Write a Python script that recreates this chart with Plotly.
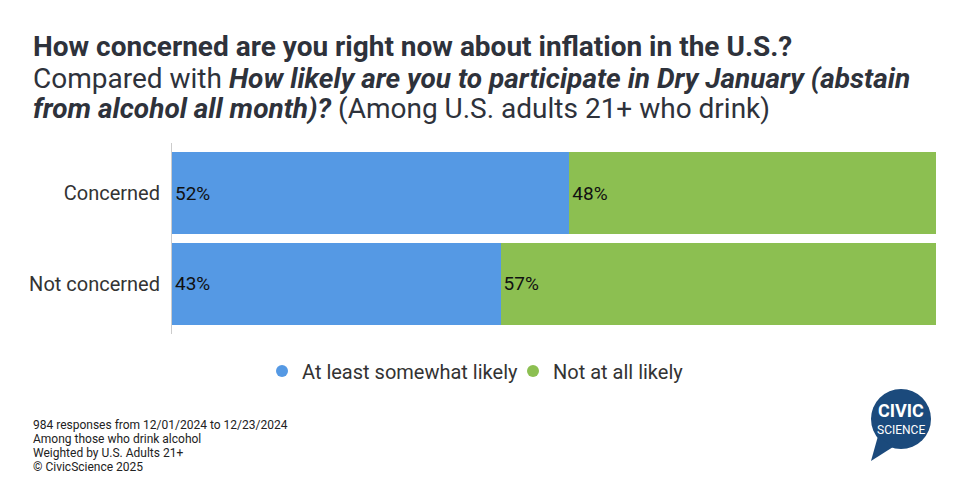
import plotly.graph_objects as go

categories = ["Concerned", "Not concerned"]
series_names = ["At least somewhat likely", "Not at all likely"]
likely = [52, 43]
not_likely = [48, 57]
colors = ["#5599E4", "#8CBF51"]

title_lines = [
    "<b>How concerned are you right now about inflation in the U.S.?</b>",
    "Compared with <b><i>How likely are you to participate in Dry January (abstain</i></b>",
    "<b><i>from alcohol all month)?</i></b> (Among U.S. adults 21+ who drink)",
]
footnote_lines = [
    "984 responses from 12/01/2024 to 12/23/2024",
    "Among those who drink alcohol",
    "Weighted by U.S. Adults 21+",
    "© CivicScience 2025",
]

# page offset (body margin) of 8px
O = 8
W, H = 966 - O, 488 - O
L = 172 - O
T = 143 - O
R = 966 - 936
B = 488 - 334
PW = W - L - R
PH = H - T - B


def X(px):
    return (px - O - L) / PW


def Y(py):
    return 1 - (py - O - T) / PH


fig = go.Figure()
for name, vals, col in zip(series_names, [likely, not_likely], colors):
    fig.add_trace(go.Bar(
        y=categories, x=[v / 100 for v in vals], orientation="h", name=name,
        marker=dict(color=col, line=dict(width=0)),
        text=[f"{v}%" for v in vals], textposition="inside", insidetextanchor="start",
        textfont=dict(family="Roboto", size=19, color="#111111"),
        hoverinfo="skip", showlegend=False,
    ))
# legend entries with circle markers
for name, col in zip(series_names, colors):
    fig.add_trace(go.Scatter(
        x=[None], y=[None], mode="markers", name=name,
        marker=dict(color=col, size=15, symbol="circle"), showlegend=True,
    ))

fig.update_layout(
    width=W, height=H, barmode="stack", bargap=0.1,
    margin=dict(l=L, r=R, t=T, b=B, pad=0),
    paper_bgcolor="white", plot_bgcolor="white",
    font=dict(family="Roboto", color="#333333"),
    showlegend=True,
    legend=dict(orientation="h", x=X(513), xanchor="center", y=Y(371), yanchor="middle",
                font=dict(size=20, color="#333333"), itemsizing="constant",
                traceorder="normal", itemwidth=30, entrywidth=206),
    xaxis=dict(range=[0, 1], visible=False, fixedrange=True),
    yaxis=dict(range=[1.55, -0.55], showline=True, linecolor="#cccccc", linewidth=1,
               ticks="", tickfont=dict(size=20, color="#333333"), ticklabelstandoff=7,
               showgrid=False, zeroline=False),
    uniformtext=dict(mode="show", minsize=8),
)

TS = 28
for line, baseline in zip(title_lines, [57, 89, 119]):
    fig.add_annotation(text=line, xref="paper", yref="paper",
                       x=X(31), y=Y(baseline - 0.36 * TS),
                       xanchor="left", yanchor="middle", align="left", showarrow=False,
                       font=dict(family="Roboto", size=TS, color="#2E323B"))

for line, center in zip(footnote_lines, [425, 439, 453, 467]):
    fig.add_annotation(text=line, xref="paper", yref="paper",
                       x=X(31), y=Y(center),
                       xanchor="left", yanchor="middle", align="left", showarrow=False,
                       font=dict(family="Roboto", size=12, color="#222222"))

# Logo
logo_col = "#1B4A7C"
cx, cy, r = 901, 419, 30
fig.add_shape(type="circle", xref="paper", yref="paper",
              x0=X(cx - r), x1=X(cx + r), y0=Y(cy + r), y1=Y(cy - r),
              fillcolor=logo_col, line=dict(width=0), layer="above")


def pt(x, y):
    return f"{X(x)},{Y(y)}"


fig.add_shape(type="path", xref="paper", yref="paper",
              path=f"M {pt(878, 436)} L {pt(871, 461)} L {pt(893, 447)} Z",
              fillcolor=logo_col, line=dict(width=0), layer="above")
fig.add_annotation(text="<b>CIVIC</b>", xref="paper", yref="paper",
                   x=X(cx), y=Y(410), xanchor="center", yanchor="middle",
                   showarrow=False, font=dict(family="Roboto", size=18, color="white"))
fig.add_annotation(text="SCIENCE", xref="paper", yref="paper",
                   x=X(cx), y=Y(430), xanchor="center", yanchor="middle",
                   showarrow=False, font=dict(family="Roboto", size=12, color="white"))

fig.write_html("out.html")
